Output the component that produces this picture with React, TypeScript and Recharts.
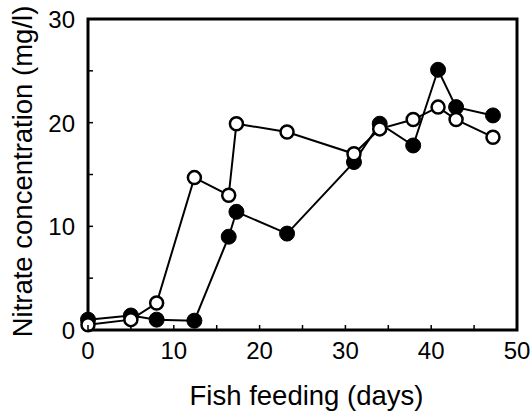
import { LineChart, Line, XAxis, YAxis, ReferenceArea } from "recharts";

const days = [0, 5, 8, 12.4, 16.4, 17.3, 23.2, 31, 34, 37.9, 40.8, 42.9, 47.2];
const filledSeries = [1.0, 1.4, 1.0, 0.9, 9.0, 11.4, 9.3, 16.2, 19.9, 17.8, 25.1, 21.5, 20.7];
const openSeries = [0.5, 1.0, 2.6, 14.7, 13.0, 19.9, 19.1, 17.0, 19.4, 20.3, 21.5, 20.3, 18.6];
const xTicks = [0, 5, 10, 15, 20, 25, 30, 35, 40, 45, 50];
const yTicks = [0, 5, 10, 15, 20, 25, 30];

const data = days.map((d, i) => ({ day: d, filled: filledSeries[i], open: openSeries[i] }));

const FONT = '"Liberation Sans", Arial, Helvetica, sans-serif';

const XTick = ({ x, y, payload }: any) => (
  <g>
    <line x1={x} x2={x} y1={y} y2={y - 5} stroke="#000" strokeWidth={1.5} />
    {payload.value % 10 === 0 && (
      <text x={x} y={y + 29} textAnchor="middle" fontSize={24} fontFamily={FONT} fill="#000">
        {payload.value}
      </text>
    )}
  </g>
);

const YTick = ({ x, y, payload }: any) => (
  <g>
    <line x1={x} x2={x + 5} y1={y} y2={y} stroke="#000" strokeWidth={1.5} />
    {payload.value % 10 === 0 && (
      <text x={x - 13} y={y + 9} textAnchor="end" fontSize={24} fontFamily={FONT} fill="#000">
        {payload.value}
      </text>
    )}
  </g>
);

const App = () => (
  <div style={{ position: "absolute", left: 0, top: 0, background: "#fff" }}>
    <LineChart width={531} height={416} data={data} margin={{ top: 19, right: 14, left: 28, bottom: 56 }}>
      <XAxis
        dataKey="day"
        type="number"
        domain={[0, 50]}
        ticks={xTicks}
        tick={<XTick />}
        tickLine={false}
        tickSize={0}
        tickMargin={0}
        axisLine={false}
        height={30}
        interval={0}
        label={({ viewBox }: any) => (
          <text
            x={viewBox.x + viewBox.width / 2 + 4}
            y={viewBox.y + 75}
            textAnchor="middle"
            fontSize={27.5}
            fontFamily={FONT}
            fill="#000"
          >
            Fish feeding (days)
          </text>
        )}
      />
      <YAxis
        type="number"
        domain={[0, 30]}
        ticks={yTicks}
        tick={<YTick />}
        tickLine={false}
        tickSize={0}
        tickMargin={0}
        axisLine={false}
        width={60}
        interval={0}
        label={({ viewBox }: any) => {
          const cx = 22;
          const cy = viewBox.y + viewBox.height / 2 - 3;
          return (
            <text
              x={cx}
              y={cy}
              transform={`rotate(-90, ${cx}, ${cy})`}
              textAnchor="middle"
              dominantBaseline="central"
              fontSize={27.5}
              fontFamily={FONT}
              fill="#000"
            >
              Nitrate concentration (mg/l)
            </text>
          );
        }}
      />
      <ReferenceArea x1={0} x2={50} y1={0} y2={30} fill="none" stroke="#000" strokeWidth={3} fillOpacity={0} />
      <Line
        dataKey="filled"
        stroke="#000"
        strokeWidth={2}
        isAnimationActive={false}
        dot={{ r: 7.5, fill: "#000", stroke: "#000", strokeWidth: 1 }}
      />
      <Line
        dataKey="open"
        stroke="#000"
        strokeWidth={2}
        isAnimationActive={false}
        dot={{ r: 6.5, fill: "#fff", stroke: "#000", strokeWidth: 2.5 }}
      />
    </LineChart>
  </div>
);

export default App;
